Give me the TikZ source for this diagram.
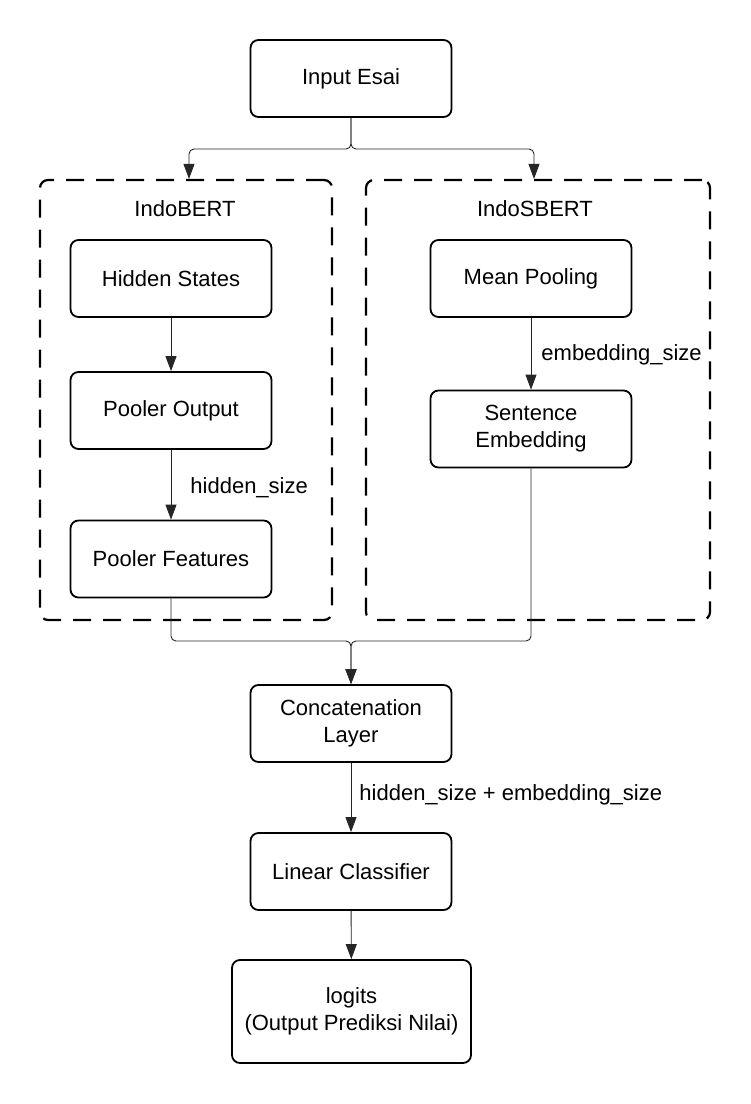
\documentclass[tikz,border=0pt]{standalone}
\usepackage{fontspec}
\setmainfont{Liberation Sans}
\usepackage{tikz}
\usetikzlibrary{positioning,calc}
\usetikzlibrary{arrows.meta}
\tikzstyle{block} = [rectangle, rounded corners=8pt, draw=black, line width=1.8pt, minimum width=201pt, minimum height=77pt, text centered, align=center]
\tikzstyle{arrow} = [line width=0.9pt, draw=black!85, rounded corners=5pt, -{Triangle[length=15pt,width=11pt]}]

\begin{document}
\begin{tikzpicture}[x=1pt, y=-1pt, font=\fontsize{22}{27}\selectfont,
    G/.style = {rectangle, rounded corners=8pt, draw=black, line width=2.2pt, dash pattern=on 18pt off 12pt},
    lbl/.style = {anchor=west, inner sep=3pt}]
    \useasboundingbox (0,0) rectangle (751,1104);
    % groups
    \node (bert) [G, minimum width=292pt, minimum height=440pt] at (186,400) {};
    \node (sbert) [G, minimum width=344pt, minimum height=440pt] at (538,400) {};
    \node (bertname) at (185,209) {IndoBERT};
    \node (sbertname) at (535,209) {IndoSBERT};

    \node (input) [block] at (351,78.5) {Input Esai};
    \node (hidden) [block] at (171,278.5) {Hidden States};
    \node (pooler) [block] at (171,410.5) {Pooler Output};
    \node (feat) [block] at (171,559) {Pooler Features};
    \node (mean) [block] at (531,278.5) {Mean Pooling};
    \node (sent) [block] at (531,429) {Sentence\\Embedding};
    \node (concat) [block] at (351,723.5) {Concatenation\\Layer};
    \node (linear) [block] at (351,871.5) {Linear Classifier};
    \node (logits) [block, minimum width=239pt, minimum height=103pt] at (351.5,1011.5) {logits\\(Output Prediksi Nilai)};

    \coordinate (split) at (351,149);
    \coordinate (join) at (351,641);

    \draw[arrow] (input.south) -- (split) -| ($(bert.north)+(3,0)$);
    \draw[arrow] (input.south) -- (split) -| ($(sbert.north)+(-4,0)$);
    \draw[arrow] (hidden) -- (pooler);
    \draw[arrow] (pooler) -- node[lbl, xshift=16pt, yshift=-3pt] {hidden\_size} (feat);
    \draw[arrow] (mean) -- node[lbl, xshift=7pt, yshift=-1pt] {embedding\_size} (sent);
    \draw[arrow] (feat.south) |- (join) -- (concat.north);
    \draw[arrow] (sent.south) |- (join) -- (concat.north);
    \draw[arrow] (concat) -- node[lbl, xshift=5pt, yshift=3pt] {hidden\_size + embedding\_size} (linear);
    \draw[arrow] (linear) -- (logits);
\end{tikzpicture}
\end{document}
